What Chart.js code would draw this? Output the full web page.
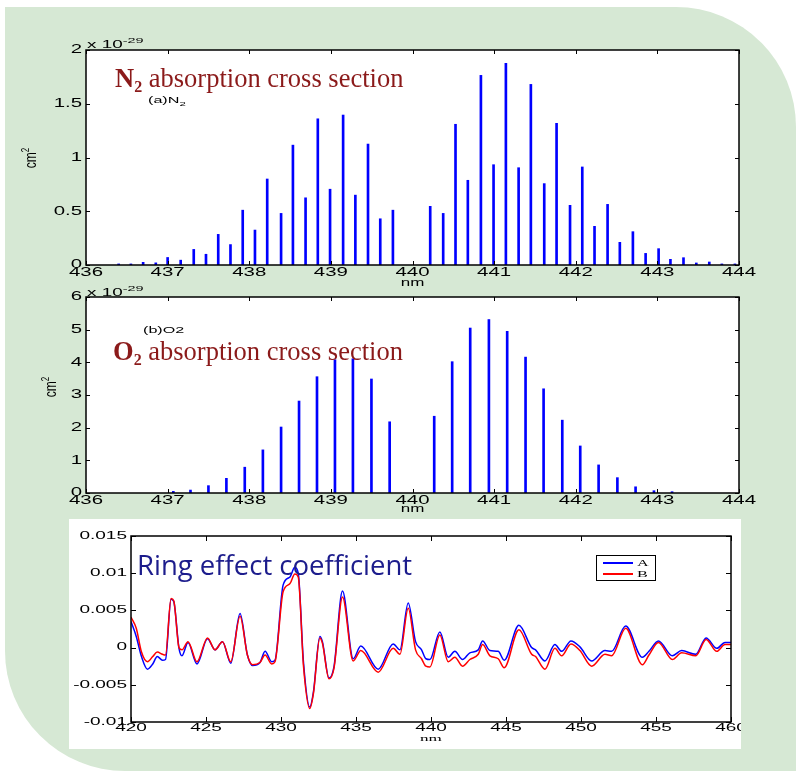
<!DOCTYPE html>
<html>
<head>
<meta charset="utf-8">
<script src="https://cdn.jsdelivr.net/npm/chart.js@4.4.1/dist/chart.umd.min.js"></script>
<style>
  body { margin: 0; background: #fff; }
  #page { position: relative; width: 796px; height: 771px; overflow: hidden; }
  .bg { position: absolute; left: 5px; top: 7px; width: 791px; height: 764px; background: #d6e8d4;
        border-top-right-radius: 120px; border-bottom-left-radius: 120px; }
  canvas { position: absolute; }
  .txt { position: absolute; white-space: nowrap; transform-origin: 0 0; line-height: 1; }
  .sci { font: 10.5px "Liberation Sans", Arial, sans-serif; transform: scaleX(1.8); line-height: 12px; }
  .sci sup { font-size: 8px; vertical-align: 5px; }
  .tag { font: 8.5px "Liberation Sans", Arial, sans-serif; transform: scaleX(1.9); }
  .unit { font: 12px "Liberation Sans", Arial, sans-serif; transform: translate(-50%, -50%) rotate(-90deg) scaleY(1.3);
          transform-origin: 50% 50%; }
  .unit sup { font-size: 8px; vertical-align: 5px; }
  .gas { font: 26.5px "Liberation Serif", "Times New Roman", serif; color: #8b1a1a; }
  .gas sub { font-size: 16px; vertical-align: -5px; }
  .ring { font: 27.5px "Open Sans", "Noto Sans", sans-serif; color: #1c1c8c; }
  #legend { position: absolute; left: 596px; top: 555px; width: 58px; height: 24px; border: 1.5px solid #000; background: #fff; }
  #legend .ln { position: absolute; left: 6px; width: 30px; height: 1.5px; }
  #legend .lb { position: absolute; left: 40px; font: 9px "Liberation Serif", serif; transform: scaleX(1.8); transform-origin: 0 0; }
</style>
</head>
<body>
<div id="page">
  <div class="bg"></div>

  <canvas id="n2Chart" width="796" height="260" style="left:0;top:35px"></canvas>
  <canvas id="o2Chart" width="796" height="235" style="left:0;top:285px"></canvas>
  <canvas id="ringChart" width="672" height="230" style="left:69px;top:519px;background:#fff"></canvas>

  <!-- N2 panel text -->
  <div class="txt sci" style="left:87px;top:35px">x 10<sup>-29</sup></div>
  <div class="txt unit" style="left:30px;top:158px">cm<sup>2</sup></div>
  <div class="txt gas" style="left:115px;top:63px"><b>N<sub>2</sub></b> absorption cross section</div>
  <div class="txt tag" style="left:148px;top:95px">(a)N<sub style="font-size:6px">2</sub></div>

  <!-- O2 panel text -->
  <div class="txt sci" style="left:87px;top:283px">x 10<sup>-29</sup></div>
  <div class="txt unit" style="left:50px;top:387px">cm<sup>2</sup></div>
  <div class="txt tag" style="left:143px;top:325px">(b)O2</div>
  <div class="txt gas" style="left:113px;top:336px"><b>O<sub>2</sub></b> absorption cross section</div>

  <!-- ring panel text -->
  <div class="txt ring" style="left:137px;top:546px">Ring effect coefficient</div>
  <div id="legend">
    <div class="ln" style="top:6px;background:#0000ff"></div>
    <div class="lb" style="top:2px">A</div>
    <div class="ln" style="top:17px;background:#ff0000"></div>
    <div class="lb" style="top:13px">B</div>
  </div>
</div>

<script>
// N2 lines (nm, 1e-29 cm^2)
var n2Nm = [436.40, 436.55, 436.70, 436.855, 437.00, 437.16, 437.32, 437.47, 437.62, 437.77,
            437.92, 438.07, 438.22, 438.39, 438.535, 438.69, 438.84, 438.99, 439.15, 439.30,
            439.455, 439.605, 439.76,
            440.217, 440.376, 440.527, 440.678, 440.838, 440.993, 441.144, 441.30, 441.45, 441.614,
            441.765, 441.93, 442.08, 442.23, 442.39, 442.54, 442.70, 442.856, 443.015, 443.16,
            443.32, 443.477, 443.636, 443.79, 443.95];
var n2Val = [0.01, 0.01, 0.025, 0.02, 0.07, 0.045, 0.145, 0.10, 0.285, 0.19,
             0.51, 0.325, 0.80, 0.48, 1.115, 0.625, 1.36, 0.705, 1.395, 0.65,
             1.125, 0.43, 0.51,
             0.546, 0.48, 1.309, 0.788, 1.764, 0.933, 1.876, 0.905, 1.68, 0.757,
             1.318, 0.555, 0.912, 0.36, 0.564, 0.211, 0.31, 0.108, 0.152, 0.053,
             0.068, 0.019, 0.028, 0.01, 0.01];

// O2 lines
var o2Nm = [437.07, 437.28, 437.50, 437.72, 437.945, 438.167, 438.39, 438.61, 438.83, 439.05,
            439.27, 439.497, 439.72,
            440.266, 440.486, 440.707, 440.936, 441.16, 441.385, 441.606, 441.835, 442.055,
            442.28, 442.51, 442.733, 442.958, 443.18];
var o2Val = [0.05, 0.09, 0.225, 0.45, 0.79, 1.32, 2.02, 2.815, 3.56, 4.08,
             4.11, 3.49, 2.18,
             2.35, 4.02, 5.05, 5.31, 4.95, 4.16, 3.19, 2.23, 1.44,
             0.86, 0.47, 0.19, 0.07, 0.04];

// Ring effect coefficient, curves A and B
var ringNm = [420.0, 420.35, 420.7, 421.1, 421.45, 421.75, 422.1, 422.3, 422.67, 422.85,
              423.2, 423.4, 423.8, 424.4, 425.1, 425.6, 426.1, 426.65, 427.27, 427.76,
              428.1, 428.6, 428.94, 429.38, 429.6, 430.14, 430.6, 430.92, 431.15, 431.5,
              431.92, 432.16, 432.59, 432.76, 433.2, 433.53, 434.1, 434.81, 435.32, 436.48,
              437.48, 437.93, 438.48, 438.97, 439.37, 439.66, 439.93, 440.59, 441.15, 441.59,
              442.1, 442.59, 443.15, 443.44, 443.93, 444.48, 444.88, 445.86, 446.71, 446.97,
              447.6, 448.26, 448.71, 449.33, 449.93, 450.71, 451.6, 452.04, 452.98, 454.09,
              454.53, 455.16, 456.09, 456.71, 457.65, 458.34, 459.05, 459.6, 460.0];
var ringA = [0.0035, 0.0015, -0.0012, -0.0029, -0.0022, -0.0012, -0.0017, -0.0016, 0.0065, 0.0062,
             -0.0001, -0.0011, 0.0007, -0.0022, 0.0012, -0.0003, 0.0008, -0.0021, 0.0046, -0.0010,
             -0.0024, -0.0020, -0.0005, -0.0019, -0.0017, 0.0084, 0.0095, 0.0108, 0.0100, -0.0020,
             -0.0080, -0.0060, 0.0015, 0.0008, -0.0041, -0.0026, 0.0076, -0.0015, 0.0002, -0.0029,
             0.0005, -0.0003, 0.0060, 0.0008, -0.0003, -0.0015, -0.0016, 0.0021, -0.0013, -0.0005,
             -0.0016, -0.0007, -0.0003, 0.0009, -0.0004, -0.0005, -0.0017, 0.0030, 0.0000, -0.0003,
             -0.0018, 0.0004, -0.0005, 0.0009, 0.0001, -0.0018, -0.0004, -0.0005, 0.0029, -0.0013,
             -0.0005, 0.0009, -0.0011, -0.0004, -0.0009, 0.0013, -0.0001, 0.0007, 0.0007];
var ringB = [0.0041, 0.0026, -0.0006, -0.0019, -0.0012, -0.0006, -0.0009, -0.0010, 0.0066, 0.0063,
             0.0000, -0.0003, 0.0008, -0.0019, 0.0013, -0.0003, 0.0008, -0.0019, 0.0042, -0.0010,
             -0.0023, -0.0020, -0.0010, -0.0022, -0.0019, 0.0075, 0.0086, 0.0099, 0.0095, -0.0025,
             -0.0082, -0.0062, 0.0013, 0.0006, -0.0042, -0.0028, 0.0068, -0.0018, -0.0004, -0.0033,
             -0.0001, -0.0009, 0.0053, -0.0003, -0.0015, -0.0025, -0.0026, 0.0017, -0.0019, -0.0013,
             -0.0025, -0.0016, -0.0009, 0.0004, -0.0011, -0.0015, -0.0027, 0.0024, -0.0009, -0.0012,
             -0.0029, -0.0001, -0.0011, 0.0005, -0.0004, -0.0025, -0.0009, -0.0011, 0.0026, -0.0023,
             -0.0010, 0.0007, -0.0016, -0.0007, -0.0011, 0.0011, -0.0005, 0.0004, 0.0004];

// tick values
var specXTicks = [436, 437, 438, 439, 440, 441, 442, 443, 444];
var n2YTicks = [0, 0.5, 1, 1.5, 2];
var o2YTicks = [0, 1, 2, 3, 4, 5, 6];
var ringXTicks = [420, 425, 430, 435, 440, 445, 450, 455, 460];
var ringYTicks = [-0.01, -0.005, 0, 0.005, 0.01, 0.015];

//matlab look: white plot box, frame, ticks pointing inwards
var matlabAxes = {
  id: 'matlabAxes',
  beforeDraw(chart, args, opts) {
    var a = chart.chartArea, ctx = chart.ctx;
    ctx.save();
    ctx.fillStyle = '#fff';
    ctx.fillRect(a.left, a.top, a.right - a.left, a.bottom - a.top);
    ctx.restore();
  },
  afterDatasetsDraw(chart, args, opts) {
    var a = chart.chartArea, ctx = chart.ctx;
    var x = chart.scales.x, y = chart.scales.y;
    var len = opts.tickLen || 4;
    ctx.save();
    ctx.strokeStyle = '#000';
    ctx.lineWidth = 1;
    ctx.beginPath();
    x.ticks.forEach(t => {
      var px = Math.round(x.getPixelForValue(t.value)) + 0.5;
      ctx.moveTo(px, a.bottom); ctx.lineTo(px, a.bottom - len);
      ctx.moveTo(px, a.top); ctx.lineTo(px, a.top + len);
    });
    y.ticks.forEach(t => {
      var py = Math.round(y.getPixelForValue(t.value)) + 0.5;
      ctx.moveTo(a.left, py); ctx.lineTo(a.left + len, py);
      ctx.moveTo(a.right, py); ctx.lineTo(a.right - len, py);
    });
    ctx.stroke();
    ctx.lineWidth = 1.5;
    ctx.strokeRect(a.left, a.top, a.right - a.left, a.bottom - a.top);
    ctx.restore();
  }
};

// the old figure has wide, stretched labels
var stretchText = {
  id: 'stretchText',
  beforeDraw(chart, args, opts) {
    var ctx = chart.ctx;
    if (ctx._plainFill) return;
    var orig = ctx.fillText;
    ctx._plainFill = orig;
    ctx.fillText = function (t, px, py) {
      this.save();
      this.translate(px, py);
      this.scale(opts.sx, 1);
      orig.call(this, t, 0, 0);
      this.restore();
    };
  }
};

var sans = '"Liberation Sans", Arial, sans-serif';
var noGrid = { display: false, drawTicks: false, offset: false };

function setTicks(list) {
  return s => { s.ticks = list.map(v => ({ value: v })); };
}

function spectrum(id, nm, vals, yTicks, padTop, xHeight, nmPad) {
  return new Chart(document.getElementById(id), {
    type: 'bar',
    data: {
      datasets: [{
        data: nm.map((v, i) => ({ x: v, y: vals[i] })),
        backgroundColor: '#0000ff',
        barThickness: 2
      }]
    },
    options: {
      responsive: false,
      animation: false,
      layout: { padding: { top: padTop, right: 57, left: 0, bottom: 0 } },
      plugins: {
        legend: { display: false },
        tooltip: { enabled: false },
        matlabAxes: { tickLen: 4 },
        stretchText: { sx: 1.7 }
      },
      scales: {
        x: {
          type: 'linear', min: 436, max: 444, offset: false,
          grid: noGrid, border: { display: false },
          afterBuildTicks: setTicks(specXTicks),
          ticks: { padding: 0, maxRotation: 0, autoSkip: false, color: '#000', font: { family: sans, size: 12 } },
          title: { display: true, text: 'nm', color: '#000', font: { family: sans, size: 10 }, padding: { top: 0, bottom: nmPad } },
          afterFit: s => { s.height = xHeight; }
        },
        y: {
          min: 0, max: yTicks[yTicks.length - 1],
          grid: noGrid, border: { display: false },
          afterBuildTicks: setTicks(yTicks),
          ticks: { padding: 4, color: '#000', font: { family: sans, size: 12 }, callback: v => String(v) },
          afterFit: s => { s.width = 86; }
        }
      }
    },
    plugins: [matlabAxes, stretchText]
  });
}

spectrum('n2Chart', n2Nm, n2Val, n2YTicks, 15, 30, 6);
spectrum('o2Chart', o2Nm, o2Val, o2YTicks, 12, 27, 5);

//ring effect chart
new Chart(document.getElementById('ringChart'), {
  type: 'line',
  data: {
    datasets: [
      { label: 'A', data: ringNm.map((v, i) => ({ x: v, y: ringA[i] })), borderColor: '#0000ff',
        borderWidth: 1.5, pointRadius: 0, cubicInterpolationMode: 'monotone', order: 1 },
      { label: 'B', data: ringNm.map((v, i) => ({ x: v, y: ringB[i] })), borderColor: '#ff0000',
        borderWidth: 1.5, pointRadius: 0, cubicInterpolationMode: 'monotone', order: 0 }
    ]
  },
  options: {
    responsive: false,
    animation: false,
    layout: { padding: { top: 17, right: 10, left: 0, bottom: 0 } },
    plugins: {
      legend: { display: false },
      tooltip: { enabled: false },
      matlabAxes: { tickLen: 5 },
      stretchText: { sx: 1.9 }
    },
    scales: {
      x: {
        type: 'linear', min: 420, max: 460,
        grid: noGrid, border: { display: false },
        afterBuildTicks: setTicks(ringXTicks),
        ticks: { padding: 0, maxRotation: 0, autoSkip: false, color: '#000', font: { family: sans, size: 10 } },
        title: { display: true, text: 'nm', color: '#000', font: { family: '"Liberation Serif", serif', size: 9 }, padding: { top: 0, bottom: 5 } },
        afterFit: s => { s.height = 27; }
      },
      y: {
        min: -0.01, max: 0.015,
        grid: noGrid, border: { display: false },
        afterBuildTicks: setTicks(ringYTicks),
        ticks: { padding: 4, color: '#000', font: { family: sans, size: 10 }, callback: v => String(v) },
        afterFit: s => { s.width = 62; }
      }
    }
  },
  plugins: [matlabAxes, stretchText]
});
</script>
</body>
</html>
